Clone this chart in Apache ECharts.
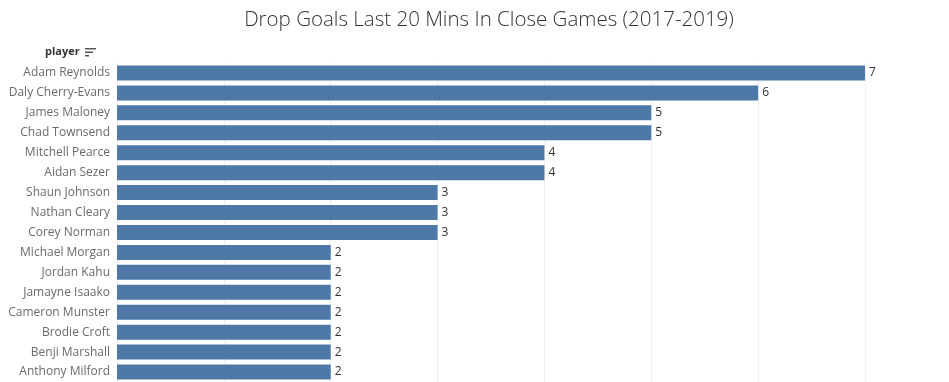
<!DOCTYPE html>
<html><head><meta charset="utf-8">
<script src="https://cdn.jsdelivr.net/npm/echarts@6/dist/echarts.min.js"></script>
<style>html,body{margin:0;padding:0;background:#fff}#c{width:949px;height:382px}</style>
</head><body><div id="c"></div>
<script>
const players = ["Adam Reynolds","Daly Cherry-Evans","James Maloney","Chad Townsend","Mitchell Pearce","Aidan Sezer","Shaun Johnson","Nathan Cleary","Corey Norman","Michael Morgan","Jordan Kahu","Jamayne Isaako","Cameron Munster","Brodie Croft","Benji Marshall","Anthony Milford"];
const dropGoals = [7,6,5,5,4,4,3,3,3,2,2,2,2,2,2,2];
const titleText = "Drop Goals Last 20 Mins In Close Games (2017-2019)";
const headerText = "player";

const chart = echarts.init(document.getElementById('c'));
chart.setOption({
  animation: false,
  title: {text: titleText, left: 484, top: 5, textAlign: 'center',
    textStyle: {fontFamily: 'Open Sans', fontWeight: 300, fontSize: 20.5, color: '#333'}},
  grid: {left: 117, right: 84, top: 63, bottom: -1, containLabel: false},
  xAxis: {type: 'value', min: 0, max: 7, interval: 1,
    axisLabel: {show: false}, axisLine: {show: false}, axisTick: {show: false},
    splitLine: {show: true, lineStyle: {color: '#f0f0f0', width: 1}}},
  yAxis: {type: 'category', data: players, inverse: true,
    axisLine: {show: false}, axisTick: {show: false},
    axisLabel: {margin: 7, fontFamily: 'Open Sans', fontSize: 12, color: '#6a6a6a'}},
  graphic: [
    {type: 'text', left: 45, top: 46, style: {text: headerText, font: 'bold 11px "Open Sans"', fill: '#333'}},
    {type: 'rect', shape: {x: 85, y: 48, width: 11, height: 1.5}, style: {fill: '#555'}},
    {type: 'rect', shape: {x: 85, y: 51.5, width: 8, height: 1.5}, style: {fill: '#555'}},
    {type: 'rect', shape: {x: 85, y: 55, width: 4, height: 1.5}, style: {fill: '#555'}}
  ],
  series: [{type: 'bar', data: dropGoals, barWidth: 15,
    itemStyle: {color: '#4e79a7'},
    label: {show: true, position: 'right', distance: 4, fontFamily: 'Open Sans', fontSize: 12, color: '#333'}}]
});
</script></body></html>
